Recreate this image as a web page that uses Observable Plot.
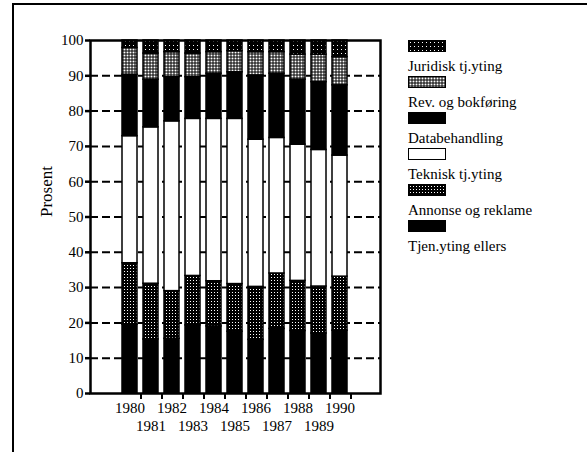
<!DOCTYPE html>
<html><head><meta charset="utf-8">
<script src="https://cdn.jsdelivr.net/npm/d3@7"></script>
<script src="https://cdn.jsdelivr.net/npm/@observablehq/plot@0.6"></script>
<style>
body{margin:0;background:#fff;}
#wrap{position:relative;width:587px;height:452px;overflow:hidden;font-family:"Liberation Serif","Times New Roman",serif;}
#chart{position:absolute;left:0;top:0;}
#border{position:absolute;left:12px;top:3px;width:700px;height:600px;border-left:2px solid #000;border-top:2px solid #000;}
#legend{position:absolute;left:408px;top:40px;font-size:15px;color:#000;}
.sw{width:36px;height:10px;border:1px solid #000;}
.lb{margin-top:6px;line-height:16px;margin-bottom:2px;white-space:nowrap;}
</style></head>
<body>
<svg width="0" height="0" style="position:absolute">
<defs>
<pattern id="pDark" patternUnits="userSpaceOnUse" width="4" height="4">
<rect width="4" height="4" fill="#000"/><rect x="1" y="1" width="1" height="1" fill="#fff"/>
</pattern>
<pattern id="pMed" patternUnits="userSpaceOnUse" width="3" height="3">
<rect width="3" height="3" fill="#000"/><rect x="1" y="1" width="1" height="1" fill="#fff"/>
</pattern>
<pattern id="pLight" patternUnits="userSpaceOnUse" width="3" height="3">
<rect width="3" height="3" fill="#000"/><rect x="0.5" y="0.5" width="2" height="2" fill="#fff"/>
</pattern>
</defs>
</svg>
<div id="wrap"><div id="chart"></div><div id="border"></div><div id="legend"></div></div>
<script>
const years = [1980,1981,1982,1983,1984,1985,1986,1987,1988,1989,1990];
// stacking order, bottom to top
const categories = ["Tjen.yting ellers","Annonse og reklame","Teknisk tj.yting","Databehandling","Rev. og bokføring","Juridisk tj.yting"];
const tjenYting   = [19.5,15.3,15.5,19.3,19.0,17.5,15.2,18.3,17.7,17.0,17.8];
const annonse     = [17.4,15.8,13.5,14.0,12.8,13.5,15.0,15.7,14.2,13.3,15.3];
const teknisk     = [36.0,44.3,48.1,44.5,46.0,46.8,41.7,38.4,38.6,38.7,34.3];
const databeh     = [17.4,13.5,12.5,11.8,12.8,13.2,18.2,18.2,18.4,19.2,19.9];
const revBok      = [7.6,7.4,7.1,6.7,6.1,6.0,6.6,6.1,7.1,7.8,8.0];
const juridisk    = [2.1,3.7,3.3,3.7,3.3,3.0,3.3,3.3,4.0,4.0,4.7];
const yTicks = [0,10,20,30,40,50,60,70,80,90,100];
const yLabel = "Prosent";
const fills = ["#000","url(#pMed)","#fff","#000","url(#pLight)","url(#pDark)"];

const series = [tjenYting, annonse, teknisk, databeh, revBok, juridisk];
const rows = [];
years.forEach((y, i) => categories.forEach((c, j) => rows.push({year: y, category: c, value: series[j][i]})));
const evenYears = years.filter(y => y % 2 === 0);
const oddYears = years.filter(y => y % 2 === 1);
const fmt = d => String(d);

const chart = Plot.plot({
  width: 587, height: 452,
  marginLeft: 90, marginRight: 207, marginTop: 40, marginBottom: 59,
  style: {background: "transparent", fontFamily: "Liberation Serif, Times New Roman, serif", color: "#000"},
  x: {type: "band", domain: years, paddingInner: 0.27, paddingOuter: 1.28},
  y: {domain: [0, 100]},
  color: {type: "ordinal", domain: categories, range: fills},
  marks: [
    Plot.ruleY(yTicks.filter(d => d > 0 && d < 100), {stroke: "#000", strokeWidth: 2, strokeDasharray: "8,4"}),
    Plot.barY(rows, {x: "year", y: "value", fill: "category", stroke: "#000", strokeWidth: 1.5, order: categories}),
    Plot.axisY({ticks: yTicks, tickSize: 5, tickPadding: 2, fontSize: 15, label: null, strokeWidth: 2.5}),
    Plot.axisX({ticks: evenYears, tickSize: 0, tickPadding: 9, fontSize: 15, label: null, tickFormat: fmt}),
    Plot.axisX({ticks: oddYears, tickSize: 0, tickPadding: 27, fontSize: 15, label: null, tickFormat: fmt}),
    Plot.axisX({ticks: years, tickSize: 6, tickFormat: () => "", dx: 11, strokeWidth: 2, label: null}),
    Plot.text([yLabel], {frameAnchor: "left", rotate: -90, dx: -44, fontSize: 17}),
    Plot.frame({stroke: "#000", strokeWidth: 2.5})
  ]
});
document.getElementById("chart").appendChild(chart);

const legend = document.getElementById("legend");
categories.slice().reverse().forEach((c) => {
  const j = categories.indexOf(c);
  const sw = document.createElement("div");
  sw.className = "sw";
  const s = document.createElementNS("http://www.w3.org/2000/svg", "svg");
  s.setAttribute("width", 36); s.setAttribute("height", 10); s.style.display = "block";
  const r = document.createElementNS("http://www.w3.org/2000/svg", "rect");
  r.setAttribute("width", 36); r.setAttribute("height", 10); r.setAttribute("fill", fills[j]);
  s.appendChild(r); sw.appendChild(s);
  const lb = document.createElement("div");
  lb.className = "lb"; lb.textContent = c;
  legend.appendChild(sw); legend.appendChild(lb);
});
</script>
</body></html>
